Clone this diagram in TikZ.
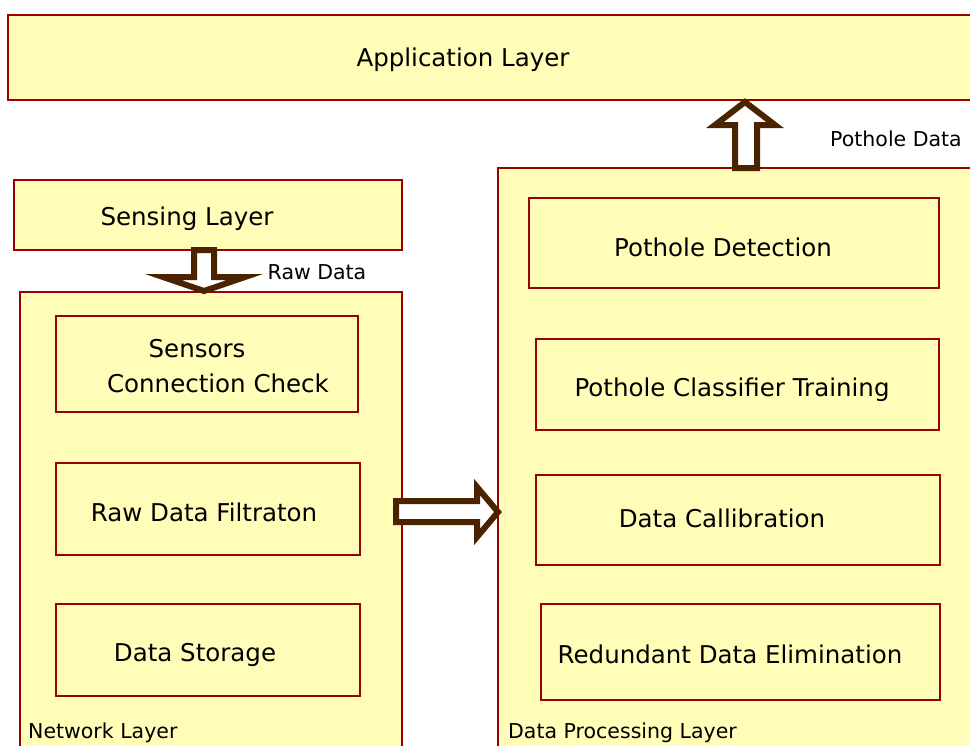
\documentclass[tikz,border=0pt]{standalone}
\usepackage{fontspec}
\setmainfont{DejaVu Sans}
\definecolor{layerfill}{HTML}{FFFDB8}
\definecolor{layerred}{HTML}{990000}
\definecolor{arrowbrown}{HTML}{4A2300}
\tikzset{
  layerbox/.style={draw=layerred, fill=layerfill, line width=1.6pt, inner sep=0pt},
  blockbox/.style={draw=layerred, fill=layerfill, line width=1.1pt, inner sep=0pt},
  maintext/.style={font=\fontsize{24.5}{28}\selectfont, inner sep=0pt, yshift=-2.5pt},
  smalltext/.style={font=\fontsize{20.5}{24}\selectfont, inner sep=0pt, yshift=-1.5pt},
  blockarrow/.style={draw=arrowbrown, fill=white, line width=6pt, line join=miter, miter limit=10},
}
\begin{document}
\begin{tikzpicture}[x=1pt, y=-1pt]
\useasboundingbox (0,0) rectangle (970,745);
\clip (0,0) rectangle (970,745);

% layers
\node[layerbox, minimum width=967pt, minimum height=85pt] (app) at (491.5,57.5) {};
\node[layerbox, minimum width=388pt, minimum height=70pt] (sense) at (208,215) {};
\node[layerbox, minimum width=382pt, minimum height=468pt] (net) at (211,526) {};
\node[layerbox, minimum width=487pt, minimum height=592pt] (proc) at (741.5,464) {};

% network layer blocks
\node[blockbox, minimum width=302pt, minimum height=96pt] (conn) at (207,364) {};
\node[blockbox, minimum width=304pt, minimum height=92pt] (filt) at (208,509) {};
\node[blockbox, minimum width=304pt, minimum height=92pt] (store) at (208,650) {};

% data processing blocks
\node[blockbox, minimum width=410pt, minimum height=90pt] (detect) at (734,243) {};
\node[blockbox, minimum width=403pt, minimum height=91pt] (classify) at (737.5,384.5) {};
\node[blockbox, minimum width=404pt, minimum height=90pt] (calib) at (738,520) {};
\node[blockbox, minimum width=399pt, minimum height=96pt] (redund) at (740.5,652) {};

% texts
\node[maintext] (appT) at (463,57) {Application Layer};
\node[maintext] (senseT) at (187,216) {Sensing Layer};
\node[maintext] (connT1) at (197,346) {Sensors};
\node[maintext] (connT2) at (218,381) {Connection Check};
\node[maintext] (filtT) at (204,510) {Raw Data Filtraton};
\node[maintext] (storeT) at (195,652) {Data Storage};
\node[maintext] (detectT) at (723,245) {Pothole Detection};
\node[maintext] (classifyT) at (732,387) {Pothole Classifier Training};
\node[maintext] (calibT) at (722,516) {Data Callibration};
\node[maintext] (redundT) at (730,652) {Redundant Data Elimination};
\node[smalltext, anchor=west] (netT) at (28,731) {Network Layer};
\node[smalltext, anchor=west] (procT) at (508,731) {Data Processing Layer};
\node[smalltext] (potholeT) at (896,137) {Pothole Data};
\node[smalltext] (rawT) at (317,271) {Raw Data};

% block arrows between layers
\draw[blockarrow] (194,250) -- (214,250) -- (214,277) -- (245,277) -- (204,291)
  -- (163,277) -- (194,277) -- cycle;
\draw[blockarrow] (396,501) -- (477,501) -- (477,487) -- (498,512) -- (477,537)
  -- (477,522) -- (396,522) -- cycle;
\draw[blockarrow] (735,168) -- (757,168) -- (757,125) -- (775,125) -- (745,102)
  -- (715,125) -- (735,125) -- cycle;
\end{tikzpicture}
\end{document}
